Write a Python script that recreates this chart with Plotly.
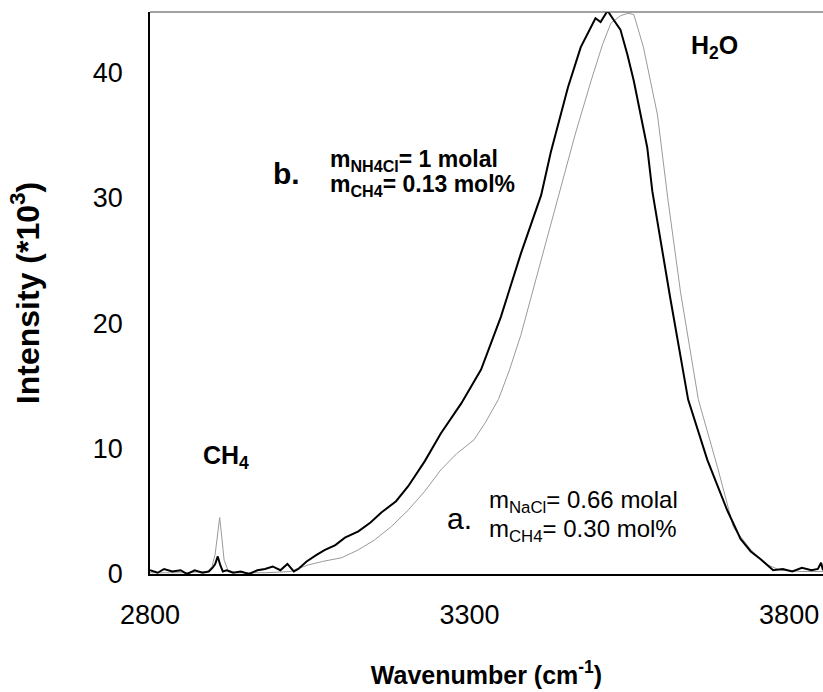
import plotly.graph_objects as go

# Spectrum b (NH4Cl solution) - black thick line
wn_b = [2800, 2812, 2822, 2835, 2848, 2858, 2870, 2882, 2892, 2898, 2902, 2906, 2910, 2914, 2920,
        2930, 2942, 2955, 2968, 2980, 2992, 3004, 3015, 3025, 3032, 3045, 3060, 3073, 3090, 3105,
        3126, 3145, 3162, 3185, 3204, 3230, 3255, 3287, 3318, 3349, 3380, 3412, 3427, 3454, 3474,
        3490, 3497, 3505, 3516, 3525, 3536, 3547, 3557, 3578, 3586, 3614, 3642, 3672, 3703, 3724,
        3740, 3755, 3775, 3790, 3805, 3820, 3835, 3845, 3850, 3853]
int_b = [0.3, 0.1, 0.4, 0.2, 0.3, 0.0, 0.3, 0.1, 0.2, 0.5, 0.8, 1.4, 0.7, 0.2, 0.3,
         0.1, 0.2, 0.0, 0.3, 0.4, 0.6, 0.3, 0.8, 0.2, 0.4, 1.0, 1.5, 1.9, 2.3, 2.9,
         3.4, 4.1, 4.9, 5.8, 7.0, 9.0, 11.2, 13.6, 16.3, 20.5, 25.5, 30.2, 33.6, 38.8, 42.0,
         43.6, 44.3, 44.0, 44.9, 44.2, 43.4, 41.4, 39.3, 34.0, 30.5, 22.0, 13.9, 9.1, 5.1, 2.8,
         1.8, 1.2, 0.3, 0.4, 0.2, 0.5, 0.3, 0.4, 0.9, 0.3]

# Spectrum a (NaCl solution) - thin gray line
wn_a = [2800, 2850, 2890, 2897, 2902, 2906, 2909, 2912, 2916, 2922, 2935, 2980, 3020, 3046,
        3070, 3100, 3125, 3151, 3178, 3204, 3230, 3255, 3280, 3307, 3325, 3345, 3362, 3380,
        3412, 3438, 3465, 3490, 3508, 3521, 3536, 3548, 3557, 3572, 3594, 3610, 3630, 3658,
        3688, 3713, 3739, 3763, 3786, 3820, 3853]
int_a = [0.1, 0.1, 0.2, 0.6, 1.6, 3.4, 4.5, 3.1, 1.1, 0.3, 0.1, 0.1, 0.2, 0.7,
         1.0, 1.3, 1.9, 2.7, 3.8, 5.1, 6.6, 8.3, 9.6, 10.7, 12.1, 13.9, 16.2, 19.0,
         25.0, 30.0, 35.0, 39.3, 42.2, 43.9, 44.5, 44.7, 44.6, 42.0, 36.6, 30.0, 22.5, 13.9,
         8.5, 3.7, 2.0, 0.8, 0.3, 0.2, 0.2]

x_ticks = [2800, 3300, 3800]
y_ticks = [0, 10, 20, 30, 40]

FONT = "Liberation Sans, Arial, sans-serif"


def ann(x, y, text, size, xanchor="left"):
    return dict(x=x, y=y, text=text, xanchor=xanchor, yanchor="middle", showarrow=False,
                font=dict(family=FONT, size=size, color="black"))


fig = go.Figure()
fig.add_trace(go.Scatter(x=wn_a, y=int_a, mode="lines",
                         line=dict(color="#9a9a9a", width=1), name="a"))
fig.add_trace(go.Scatter(x=wn_b, y=int_b, mode="lines",
                         line=dict(color="black", width=2), name="b"))

annotations = [
    ann(3683, 42.0, "<b>H<sub>2</sub>O</b>", 25, "center"),
    ann(2919, 9.3, "<b>CH<sub>4</sub></b>", 25, "center"),
    ann(3013, 31.9, "<b>b.</b>", 30, "center"),
    ann(3078, 33.0, "<b>m<sub>NH4Cl</sub>= 1 molal</b>", 23),
    ann(3078, 31.0, "<b>m<sub>CH4</sub>= 0.13 mol%</b>", 23),
    ann(3285, 4.4, "a.", 30, "center"),
    ann(3327, 5.8, "m<sub>NaCl</sub>= 0.66 molal", 24),
    ann(3327, 3.5, "m<sub>CH4</sub>= 0.30 mol%", 24),
]

fig.update_layout(
    width=823, height=692,
    margin=dict(l=150, r=0, t=12, b=118),
    paper_bgcolor="white", plot_bgcolor="white",
    showlegend=False,
    font=dict(family=FONT, color="black"),
    annotations=annotations,
    shapes=[dict(type="line", xref="paper", yref="paper", x0=0, x1=1, y0=1, y1=1,
                 line=dict(color="#444444", width=1))],
)
fig.update_xaxes(
    range=[2800, 3853], tickvals=x_ticks, ticktext=[str(v) for v in x_ticks],
    automargin=False,
    showgrid=False, zeroline=False, showline=True, linecolor="black", linewidth=2,
    ticks="", tickfont=dict(family=FONT, size=27, color="black"), ticklabelstandoff=16,
    title=dict(text="<b>Wavenumber (cm<sup>-1</sup>)</b>", font=dict(family=FONT, size=25), standoff=37),
)
fig.update_yaxes(
    range=[0, 44.8], tickvals=y_ticks, ticktext=[str(v) for v in y_ticks],
    automargin=False,
    showgrid=False, zeroline=False, showline=True, linecolor="black", linewidth=1.5,
    ticks="", tickfont=dict(family=FONT, size=27, color="black"), ticklabelstandoff=20,
    title=dict(text="<b>Intensity (*10<sup>3</sup>)</b>", font=dict(family=FONT, size=32), standoff=44),
)

# remove the default page margin so the figure sits at the window's top-left corner
fig.write_html("out.html",
               config={"displayModeBar": False},
               post_script="document.body.style.margin='0';document.body.style.overflow='hidden';")
